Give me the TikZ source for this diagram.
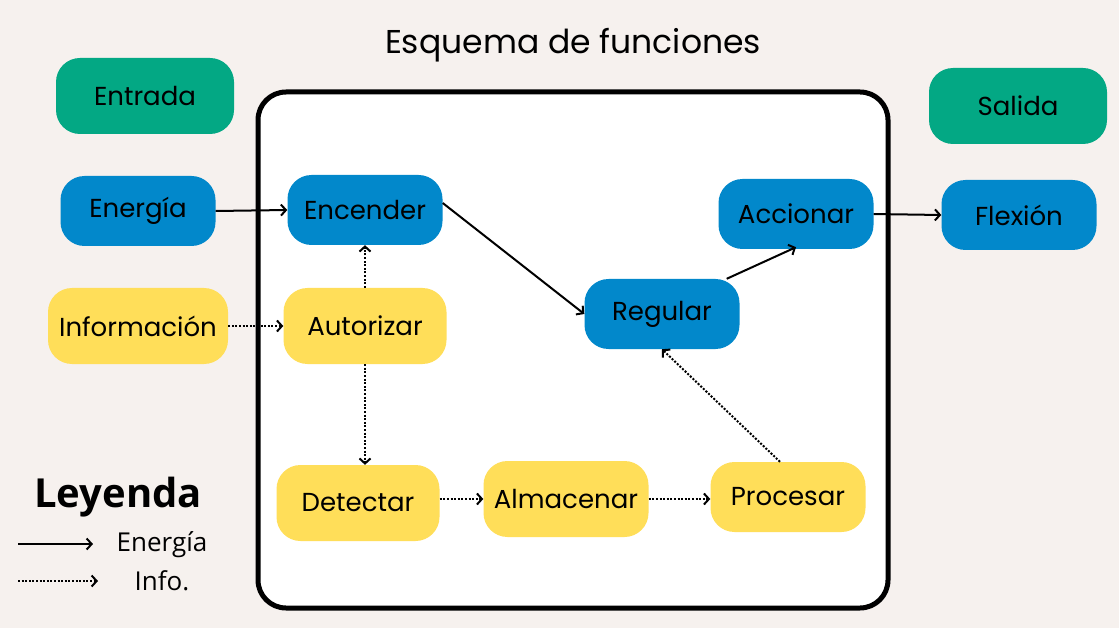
\documentclass[tikz,border=0pt]{standalone}
\usepackage{fontspec}
\setmainfont{Poppins}
\newfontfamily\legendfont{Open Sans}
\usetikzlibrary{arrows.meta}
\definecolor{fondo}{HTML}{F6F1EE}
\definecolor{azul}{HTML}{0288CB}
\definecolor{amarillo}{HTML}{FFDE59}
\definecolor{verde}{HTML}{03A884}
\tikzset{
  caja/.style={rounded corners=24pt, minimum width=155pt, minimum height=70pt,
    inner sep=0pt, font=\fontsize{26}{30}\selectfont},
  cajaenergia/.style={caja, fill=azul},
  cajainfo/.style={caja, fill=amarillo, minimum width=163pt, minimum height=76pt},
  cajaextremo/.style={caja, fill=verde, minimum width=178pt, minimum height=76pt},
  flujo/.style={-{Straight Barb[length=5pt,width=11pt]}, line width=2pt},
  senal/.style={flujo, dash pattern=on 2pt off 1.6pt}
}
\begin{document}
\begin{tikzpicture}[x=1pt,y=-1pt]
\fill[fondo] (0,0) rectangle (1119,628);
\useasboundingbox (0,0) rectangle (1119,628);
\node[font=\fontsize{33}{38}\selectfont] (titulo) at (573,45) {Esquema de funciones};
% sistema
\draw[line width=5pt, rounded corners=28pt, fill=white] (258,92) rectangle (888,608);
% entradas y salidas
\node[cajaextremo] (entrada) at (145,96) {Entrada};
\node[cajaextremo] (salida) at (1018,106) {Salida};
\node[cajaenergia] (energia) at (138,211) {Energía};
\node[cajainfo, minimum width=180pt] (informacion) at (138,326) {Información};
\node[cajaenergia] (flexion) at (1019,215) {Flexión};
% funciones
\node[cajaenergia] (encender) at (365,210) {Encender};
\node[cajainfo] (autorizar) at (365,326) {Autorizar};
\node[cajainfo] (detectar) at (358,503) {Detectar};
\node[cajainfo, minimum width=165pt] (almacenar) at (566,499) {Almacenar};
\node[cajainfo, minimum width=155pt, minimum height=70pt] (procesar) at (788,497) {Procesar};
\node[cajaenergia] (regular) at (662,314) {Regular};
\node[cajaenergia] (accionar) at (796,214) {Accionar};
% flujos de energia
\draw[flujo] (energia.east) -- (encender.west);
\draw[flujo] ([yshift=7pt]encender.east) -- (regular.west);
\draw[flujo] ([xshift=-13pt]regular.north east) -- ([yshift=2pt]accionar.south);
\draw[flujo] (accionar.east) -- (flexion.west);
% flujos de informacion
\draw[senal] (informacion.east) -- (autorizar.west);
\draw[senal] (autorizar.north) -- (encender.south);
\draw[senal] (autorizar.south) -- (autorizar.south |- detectar.north);
\draw[senal] (detectar.east |- almacenar.west) -- (almacenar.west);
\draw[senal] (almacenar.east) -- (almacenar.east -| procesar.west);
\draw[senal] ([xshift=-8pt]procesar.north) -- (regular.south);
% leyenda
\node[font=\legendfont\bfseries\fontsize{40}{44}\selectfont] (leyenda) at (118,497) {Leyenda};
\coordinate (le1) at (18,544);
\coordinate (le2) at (93,544);
\coordinate (li1) at (18,581);
\coordinate (li2) at (98,581);
\draw[flujo] (le1) -- (le2);
\draw[senal] (li1) -- (li2);
\node[font=\legendfont\fontsize{26}{30}\selectfont] (txtenergia) at (162,545) {Energía};
\node[font=\legendfont\fontsize{26}{30}\selectfont] (txtinfo) at (162,581) {Info.};
\end{tikzpicture}
\end{document}
